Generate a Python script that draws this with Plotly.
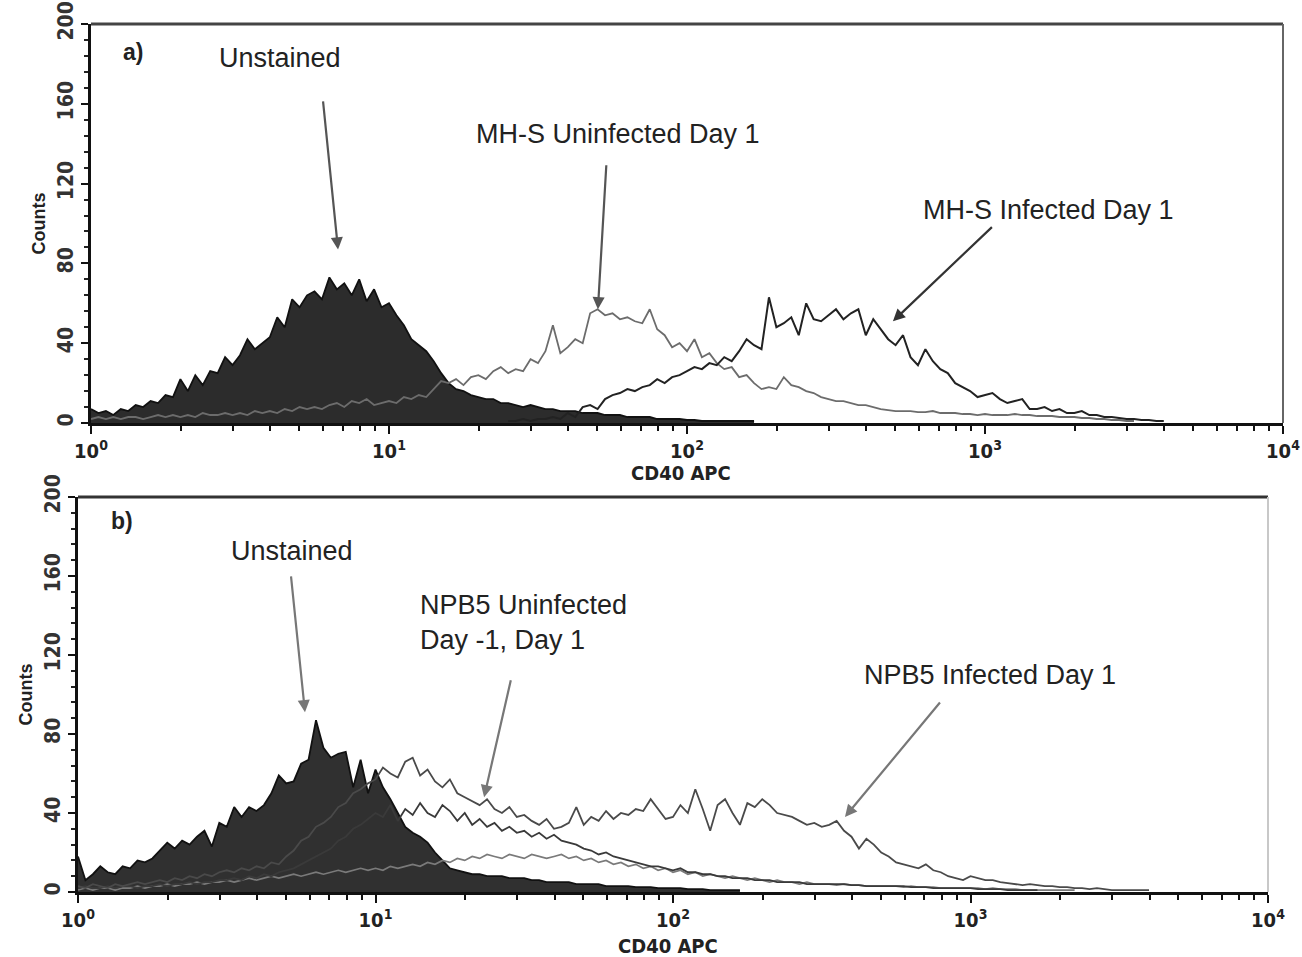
import plotly.graph_objects as go

W, H = 1302, 957

# ---------------- data (counts per log-channel bin, 0.025 decade bins) ----------------
LOG_STEP = 0.025

# Panel a) MH-S cells
a_unstained = [7, 5, 6, 4, 7, 6, 9, 8, 11, 10,
               14, 13, 22, 16, 24, 19, 26, 25, 33, 29,
               34, 42, 37, 40, 43, 53, 48, 62, 58, 64,
               66, 62, 73, 67, 70, 64, 72, 61, 67, 58,
               60, 54, 49, 42, 39, 36, 31, 25, 20, 17,
               16, 14, 13, 12, 12, 10, 10, 9, 8, 9,
               8, 7, 7, 6, 6, 6, 5, 5, 5, 4,
               4, 4, 3, 3, 3, 3, 2, 2, 2, 2,
               1.5, 1.5, 1, 1, 1, 1, 1, 1, 1, 1]
a_uninfected = [2, 3, 2, 3, 2, 3, 3, 2, 3, 4,
                3, 4, 3, 4, 3, 5, 4, 4, 5, 4,
                5, 4, 6, 5, 6, 5, 7, 6, 8, 7,
                8, 7, 9, 10, 8, 11, 10, 12, 9, 10,
                11, 10, 13, 12, 14, 13, 17, 21, 20, 22,
                19, 23, 24, 22, 26, 28, 25, 27, 26, 32,
                30, 36, 49, 35, 38, 42, 40, 55, 57, 54,
                55, 52, 53, 51, 50, 57, 47, 44, 38, 40,
                36, 42, 33, 35, 30, 27, 28, 23, 24, 20,
                17, 18, 17, 23, 19, 18, 16, 15, 13, 12,
                11, 11, 10, 9, 9, 8, 7, 6.5, 6, 6,
                6, 5.5, 5.5, 6, 5, 5, 5, 4.5, 4.5, 4,
                4.5, 4, 4, 4, 4.5, 4, 4, 3.5, 3.5, 3.5,
                3, 3, 3, 2.5, 2.5, 2, 2, 1.5, 1.5, 1,
                1]
a_infected_start = 56
a_infected = [1, 1, 2, 1,
              2, 2, 3, 2, 5, 3, 8, 9, 7, 12,
              14, 15, 17, 16, 18, 19, 22, 20, 23, 24,
              26, 28, 27, 30, 29, 33, 31, 36, 42, 39,
              37, 63, 48, 50, 53, 44, 60, 52, 51, 54,
              57, 52, 55, 57, 44, 52, 47, 42, 39, 44,
              33, 29, 37, 31, 27, 25, 20, 18, 16, 13,
              14, 15, 12, 10, 11, 12, 7, 7, 8, 6,
              7, 5, 5, 6, 4, 4, 3, 3, 2.5, 2,
              2, 1.5, 1.5, 1, 1]

# Panel b) NPB5 cells
b_unstained = [18, 6, 9, 13, 10, 9, 13, 12, 16, 15,
               17, 21, 25, 22, 26, 24, 28, 31, 23, 35,
               33, 43, 38, 43, 41, 44, 50, 59, 55, 56,
               65, 67, 87, 73, 68, 70, 71, 53, 67, 50,
               62, 53, 47, 40, 33, 30, 28, 25, 20, 16,
               12, 11, 10, 9, 9, 8, 8, 8, 7, 7,
               7, 6, 6, 5, 5, 5, 5, 4, 4, 4,
               4, 3, 3, 3, 3, 2.5, 2.5, 2.5, 2, 2,
               2, 2, 1.5, 1.5, 1.5, 1, 1, 1, 1, 1]
b_uninfected_dm1 = [2, 3, 2, 2, 3, 2, 3, 3, 2, 3,
                    3, 4, 3, 4, 4, 5, 4, 5, 5, 6,
                    6, 7, 6, 8, 7, 9, 8, 10, 11, 12,
                    14, 16, 18, 20, 22, 26, 28, 32, 34, 37,
                    40, 38, 44, 36, 42, 39, 45, 40, 38, 44,
                    41, 36, 40, 34, 37, 33, 35, 31, 33, 30,
                    31, 28, 30, 27, 29, 26, 25, 24, 22, 21,
                    19, 20, 18, 17, 16, 15, 14, 13, 13, 12,
                    11, 12, 10, 10, 9, 9, 8, 8, 7, 7,
                    7, 6, 6, 6, 5, 5, 5, 5, 4, 4,
                    4, 4, 4, 4, 3.5, 3.5, 3, 3, 3, 3,
                    3, 3, 2.5, 2.5, 2.5, 2, 2, 2, 2, 2,
                    2, 1.5, 1.5, 1.5, 1.5, 1, 1, 1, 1, 1]
b_uninfected_d1 = [1, 2, 1, 2, 2, 1, 2, 2, 3, 2,
                   3, 3, 4, 3, 4, 4, 5, 4, 5, 5,
                   6, 5, 6, 7, 6, 7, 8, 7, 8, 9,
                   8, 9, 10, 9, 10, 11, 10, 11, 12, 11,
                   12, 11, 13, 12, 13, 14, 13, 15, 14, 16,
                   15, 17, 16, 18, 17, 19, 18, 17, 19, 18,
                   17, 19, 18, 17, 18, 19, 17, 18, 16, 17,
                   15, 16, 14, 15, 13, 14, 12, 13, 11, 12,
                   10, 11, 9, 10, 8, 9, 8, 7, 8, 7,
                   6, 7, 6, 5, 6, 5, 5, 4, 5, 4,
                   4, 4, 3.5, 4, 3.5, 3.5, 3, 3, 3, 3,
                   3, 2.5, 3, 2.5, 2.5, 2.5, 2, 2, 2, 2,
                   2, 2, 1.5, 2, 1.5, 1.5, 1.5, 1, 1, 1,
                   1, 1, 1, 1, 1]
b_infected = [3, 2, 4, 3, 2, 4, 3, 4, 5, 4,
              5, 6, 5, 7, 6, 8, 7, 9, 8, 10,
              11, 10, 12, 11, 13, 12, 15, 14, 18, 21,
              26, 28, 33, 35, 38, 43, 45, 50, 52, 55,
              57, 63, 60, 58, 66, 68, 59, 62, 56, 53,
              57, 50, 48, 46, 44, 47, 42, 40, 43, 38,
              39, 36, 34, 37, 32, 33, 35, 43, 34, 38,
              36, 41, 37, 40, 39, 42, 41, 47, 42, 37,
              38, 44, 40, 52, 42, 31, 44, 47, 40, 34,
              45, 43, 47, 44, 40, 39, 38, 36, 34, 35,
              33, 34, 36, 31, 28, 22, 27, 24, 20, 18,
              15, 14, 13, 12, 14, 11, 10, 8, 7, 6,
              8, 7, 6, 6, 5, 4.5, 4, 3.5, 4, 3.5,
              3, 3, 2.5, 2.5, 2, 2, 1.5, 2, 1.5, 1,
              1, 1, 1, 1, 1]

x_tick_vals = [1, 10, 100, 1000, 10000]
x_tick_text = ["10<sup>0</sup>", "10<sup>1</sup>", "10<sup>2</sup>", "10<sup>3</sup>", "10<sup>4</sup>"]
x_minor_vals = [m * d for d in (1, 10, 100, 1000) for m in range(2, 10)]
y_tick_vals = [0, 40, 80, 120, 160, 200]


def bins(values, start=0):
    """Channel positions (log scale) for a list of bin counts."""
    return [10 ** (LOG_STEP * (start + i)) for i in range(len(values))]


NARROW = "Liberation Sans Narrow, Arial Narrow, DejaVu Sans Condensed, sans-serif"
SANS = "Liberation Sans, Arial, sans-serif"

fig = go.Figure()


def hist(values, xa, ya, color, width, start=0, fill=None, fillcolor=None):
    fig.add_trace(go.Scatter(
        x=bins(values, start), y=values, xaxis=xa, yaxis=ya, mode="lines",
        line=dict(color=color, width=width, shape="linear"),
        fill=fill, fillcolor=fillcolor, showlegend=False, hoverinfo="skip"))


# panel a
hist(a_unstained, "x", "y", "#111111", 1.8, fill="tozeroy", fillcolor="#2c2c2c")
hist(a_uninfected, "x", "y", "#6c6c6c", 1.8)
hist(a_infected, "x", "y", "#222222", 2.0, start=a_infected_start)
# panel b
hist(b_unstained, "x2", "y2", "#111111", 1.8, fill="tozeroy", fillcolor="#303030")
hist(b_uninfected_d1, "x2", "y2", "#7a7a7a", 1.7)
hist(b_uninfected_dm1, "x2", "y2", "#3a3a3a", 1.8)
hist(b_infected, "x2", "y2", "#4a4a4a", 1.8)

# ---------------- axes ----------------
def px_x(p):
    return p / W


def px_y(p):
    return 1 - p / H


def xaxis(domain, anchor):
    return dict(
        domain=domain, anchor=anchor, type="log", range=[0, 4],
        tickmode="array", tickvals=x_tick_vals, ticktext=x_tick_text,
        tickfont=dict(family=NARROW, size=20, color="#222", weight="bold"),
        ticks="outside", ticklen=8, tickwidth=2, tickcolor="#111",
        minor=dict(tickmode="array", tickvals=x_minor_vals, ticks="outside",
                   ticklen=5, tickwidth=2, tickcolor="#111", showgrid=False),
        showline=True, linewidth=3, linecolor="#111", showgrid=False, zeroline=False,
        automargin=False, fixedrange=True)


def yaxis(domain, anchor):
    return dict(
        domain=domain, anchor=anchor, range=[0, 200],
        tickmode="array", tickvals=y_tick_vals, tickangle=-90,
        tickfont=dict(family=NARROW, size=21, color="#333", weight="bold"),
        ticks="outside", ticklen=7, tickwidth=2, tickcolor="#111",
        minor=dict(dtick=8, ticks="outside", ticklen=4, tickwidth=2, tickcolor="#222", showgrid=False),
        showline=True, linewidth=3, linecolor="#111", showgrid=False, zeroline=False,
        title=dict(text="Counts", standoff=4,
                   font=dict(family=SANS, size=18, color="#222", weight="bold")),
        automargin=False, fixedrange=True)


fig.update_layout(
    width=W, height=H, margin=dict(l=0, r=0, t=0, b=0),
    paper_bgcolor="white", plot_bgcolor="white", showlegend=False,
    xaxis=xaxis([px_x(91), px_x(1283)], "y"),
    yaxis=yaxis([px_y(423), px_y(24)], "x"),
    xaxis2=xaxis([px_x(78), px_x(1268)], "y2"),
    yaxis2=yaxis([px_y(892), px_y(497)], "x2"),
)

# frame (top and right edges)
for xr, yr, top_col, right_col in (("x domain", "y domain", "#444444", "#666666"),
                                   ("x2 domain", "y2 domain", "#333333", "#c8c8c8")):
    fig.add_shape(type="line", xref=xr, yref=yr, x0=0, x1=1, y0=1, y1=1,
                  line=dict(color=top_col, width=3))
    fig.add_shape(type="line", xref=xr, yref=yr, x0=1, x1=1, y0=0, y1=1,
                  line=dict(color=right_col, width=2))

# ---------------- annotations ----------------
def label(text, px, py, xanchor="center", bold=False, size=27, family=SANS):
    fig.add_annotation(text=text, xref="paper", yref="paper", x=px_x(px), y=px_y(py),
                       xanchor=xanchor, yanchor="middle", showarrow=False, align="left",
                       font=dict(family=family, size=size, color="#222",
                                 weight="bold" if bold else "normal"))


def arrow(xa, ya, log_x, count, ax, ay, color):
    fig.add_annotation(text=" ", xref=xa, yref=ya, x=log_x, y=count, ax=ax, ay=ay,
                       showarrow=True, arrowhead=2, arrowsize=1.1, arrowwidth=2.2,
                       arrowcolor=color)


# axis titles
label("CD40 APC", 681, 473, bold=True, size=20, family=NARROW)
label("CD40 APC", 668, 946, bold=True, size=20, family=NARROW)

label("a)", 133, 52, bold=True, size=23)
label("Unstained", 280, 58)
label("MH-S Uninfected Day 1", 618, 134)
label("MH-S Infected Day 1", 1048, 210)
arrow("x", "y", 0.829, 87, -16, -158, "#555555")
arrow("x", "y", 1.701, 57, 9, -154, "#555555")
arrow("x", "y", 2.691, 51, 102, -97, "#333333")

label("b)", 122, 521, bold=True, size=23)
label("Unstained", 292, 551)
label("NPB5 Uninfected<br>Day -1, Day 1", 418, 622, xanchor="left")
label("NPB5 Infected Day 1", 990, 675)
arrow("x2", "y2", 0.763, 91, -15, -146, "#777777")
arrow("x2", "y2", 1.365, 48, 29, -127, "#777777")
arrow("x2", "y2", 2.578, 38, 98, -118, "#777777")

fig.write_html("out.html")
